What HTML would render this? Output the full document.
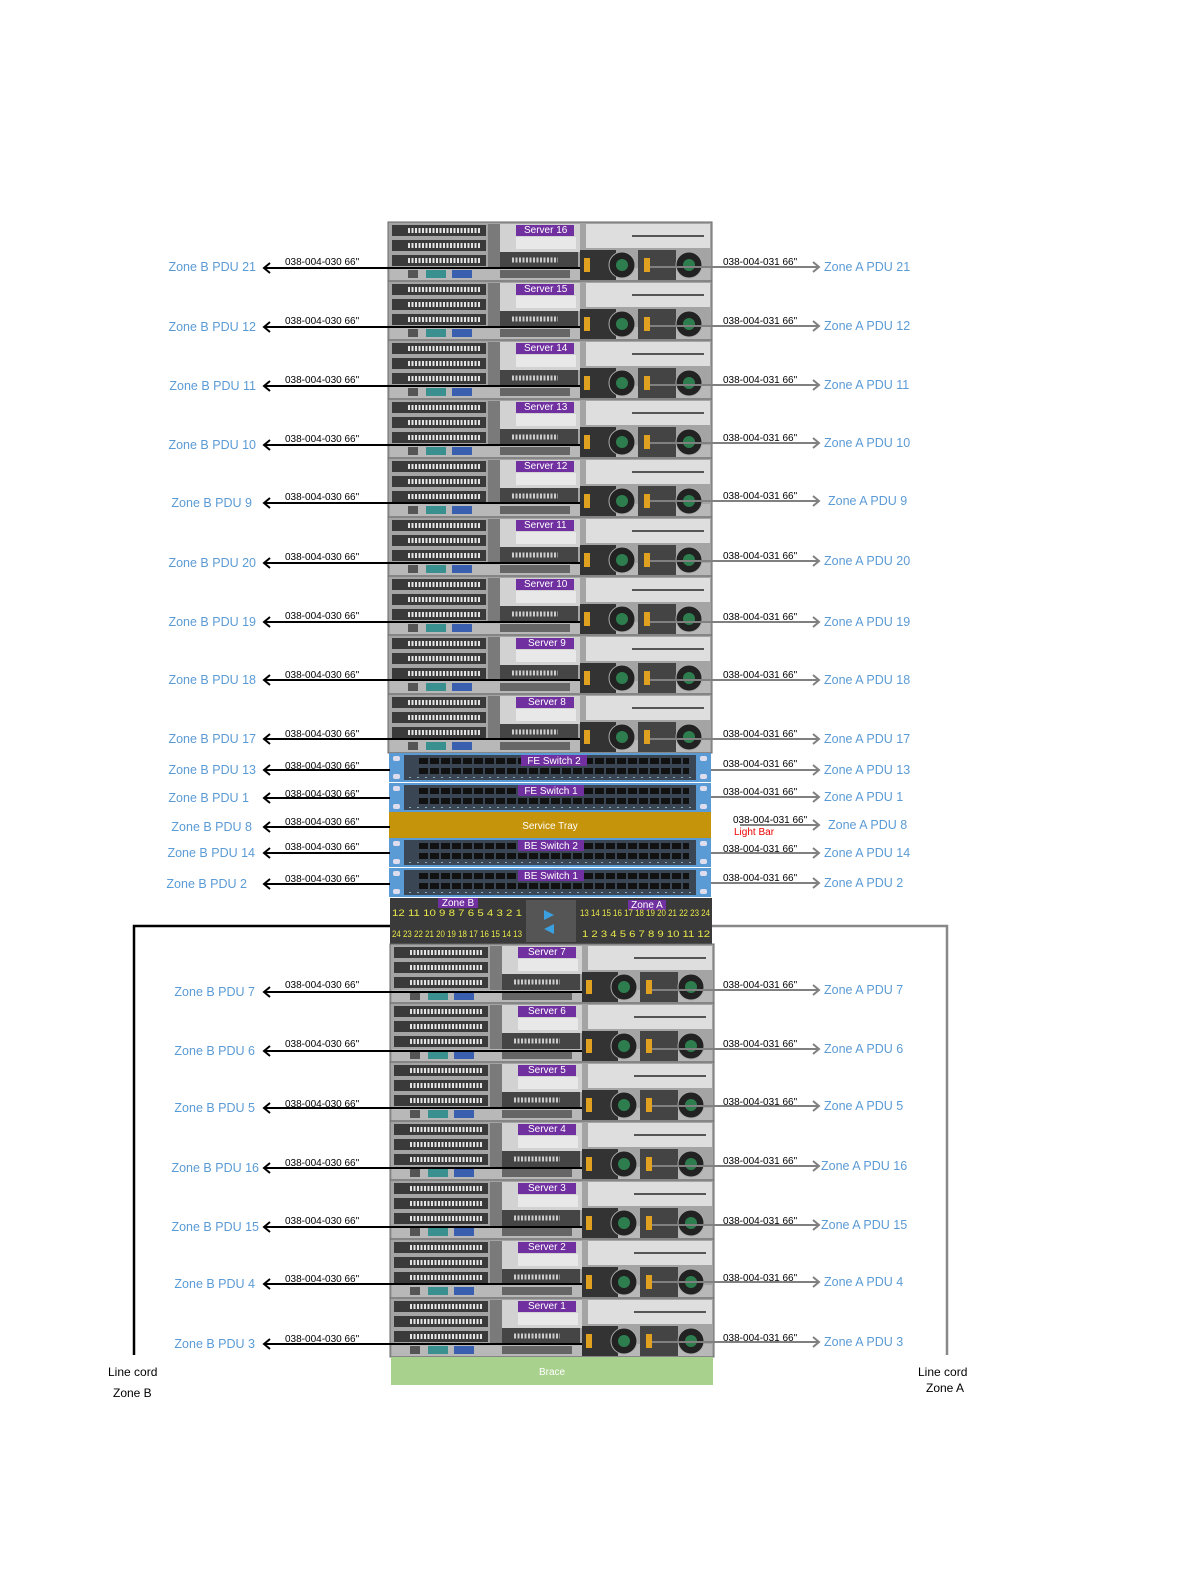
<!DOCTYPE html>
<html><head><meta charset="utf-8"><style>
html,body{margin:0;padding:0;background:#fff;}
svg{display:block;font-family:"Liberation Sans",sans-serif;}
.lb{fill:#5b9bd5;font-size:12.5px;}
.cl{fill:#000;font-size:10px;}
.sl{fill:#fff;font-size:10px;}
.pn{fill:#e8e84a;font-size:9px;}
</style></head><body>
<svg width="1191" height="1584" viewBox="0 0 1191 1584" xmlns="http://www.w3.org/2000/svg">
<defs>
<g id="srv">
<rect x="0" y="0" width="324" height="59" fill="#a4a4a4" stroke="#666" stroke-width="1"/>
<rect x="4" y="3" width="94" height="11" fill="#3a3a3a"/>
<rect x="4" y="18" width="94" height="11" fill="#3a3a3a"/>
<rect x="4" y="33" width="94" height="11" fill="#3a3a3a"/>
<line x1="20" y1="8.5" x2="92" y2="8.5" stroke="#e4e4e4" stroke-width="5" stroke-dasharray="2 1.5"/>
<line x1="20" y1="23.5" x2="92" y2="23.5" stroke="#e4e4e4" stroke-width="5" stroke-dasharray="2 1.5"/>
<line x1="20" y1="38.5" x2="92" y2="38.5" stroke="#e4e4e4" stroke-width="5" stroke-dasharray="2 1.5"/>
<rect x="2" y="46" width="320" height="12" fill="#b8b8b8"/>
<rect x="20" y="48" width="10" height="8" fill="#555"/>
<rect x="38" y="48" width="20" height="8" fill="#3a8f8f"/>
<rect x="64" y="48" width="20" height="8" fill="#3a5faf"/>
<rect x="100" y="2" width="12" height="44" fill="#7a7a7a"/>
<rect x="112" y="2" width="80" height="28" fill="#d2d2d2"/>
<rect x="128" y="3" width="58" height="11" fill="#7030a0"/>
<rect x="128" y="15" width="60" height="12" fill="#e8e8e8"/>
<rect x="112" y="30" width="78" height="16" fill="#454545"/>
<line x1="124" y1="38" x2="170" y2="38" stroke="#ccc" stroke-width="5" stroke-dasharray="2 1.5"/>
<rect x="112" y="48" width="70" height="8" fill="#666"/>
<rect x="198" y="2" width="124" height="24" fill="#dedede"/>
<line x1="244" y1="14" x2="316" y2="14" stroke="#555" stroke-width="2"/>
<rect x="192" y="28" width="36" height="30" fill="#333"/>
<rect x="196" y="36" width="6" height="14" fill="#e0a020"/>
<circle cx="234" cy="43" r="13" fill="#222" stroke="#aaa"/>
<circle cx="234" cy="43" r="6" fill="#2e7d4f"/>
<rect x="250" y="28" width="38" height="30" fill="#444"/>
<rect x="256" y="36" width="6" height="14" fill="#e0a020"/>
<circle cx="301" cy="43" r="13" fill="#222" stroke="#aaa"/>
<circle cx="301" cy="43" r="6" fill="#2e7d4f"/>
</g>
<g id="sw">
<rect x="0" y="0" width="322" height="29" fill="#5b9bd5"/>
<rect x="4" y="3" width="7" height="5" rx="2" fill="#dde"/>
<rect x="4" y="21" width="7" height="5" rx="2" fill="#dde"/>
<rect x="311" y="3" width="7" height="5" rx="2" fill="#dde"/>
<rect x="311" y="21" width="7" height="5" rx="2" fill="#dde"/>
<rect x="15" y="2" width="292" height="25" fill="#3a4654"/>
<line x1="30" y1="8" x2="300" y2="8" stroke="#111" stroke-width="6" stroke-dasharray="9 2"/>
<line x1="30" y1="18" x2="300" y2="18" stroke="#111" stroke-width="6" stroke-dasharray="9 2"/>
<line x1="20" y1="24.5" x2="304" y2="24.5" stroke="#8ab" stroke-width="1" stroke-dasharray="2 6"/>
</g>
</defs>

<use href="#srv" x="388" y="222"/><use href="#srv" x="388" y="281"/><use href="#srv" x="388" y="340"/>
<use href="#srv" x="388" y="399"/><use href="#srv" x="388" y="458"/><use href="#srv" x="388" y="517"/>
<use href="#srv" x="388" y="576"/><use href="#srv" x="388" y="635"/><use href="#srv" x="388" y="694"/>
<g class="sl">
<text x="524" y="233">Server 16</text><text x="524" y="292">Server 15</text><text x="524" y="351">Server 14</text>
<text x="524" y="410">Server 13</text><text x="524" y="469">Server 12</text><text x="524" y="528">Server 11</text>
<text x="524" y="587">Server 10</text><text x="528" y="646">Server 9</text><text x="528" y="705">Server 8</text>
</g>
<use href="#sw" x="389" y="753"/><use href="#sw" x="389" y="783"/>
<rect x="389" y="812" width="322" height="26" fill="#c5940a"/>
<text x="550" y="829" fill="#fff" font-size="10" text-anchor="middle">Service Tray</text>
<use href="#sw" x="389" y="838"/><use href="#sw" x="389" y="868"/>
<rect x="521" y="755" width="66" height="11" fill="#7030a0"/><text x="554" y="764" class="sl" text-anchor="middle">FE Switch 2</text>
<rect x="518" y="785" width="66" height="11" fill="#7030a0"/><text x="551" y="794" class="sl" text-anchor="middle">FE Switch 1</text>
<rect x="518" y="840" width="66" height="11" fill="#7030a0"/><text x="551" y="849" class="sl" text-anchor="middle">BE Switch 2</text>
<rect x="518" y="870" width="66" height="11" fill="#7030a0"/><text x="551" y="879" class="sl" text-anchor="middle">BE Switch 1</text>
<rect x="390" y="898" width="322" height="46" fill="#3a3a3a"/>
<rect x="526" y="900" width="50" height="42" fill="#555"/>
<polygon points="544,910 554,915 544,920" fill="#3aa0e0"/><polygon points="554,924 544,929 554,934" fill="#3aa0e0"/>
<rect x="438" y="898" width="40" height="10" fill="#7030a0"/><text x="458" y="906" class="sl" text-anchor="middle" font-size="9">Zone B</text>
<rect x="628" y="900" width="38" height="10" fill="#7030a0"/><text x="647" y="908" class="sl" text-anchor="middle" font-size="9">Zone A</text>
<text x="392" y="916" class="pn" textLength="130" lengthAdjust="spacingAndGlyphs">12 11 10 9  8 7 6 5  4 3 2 1</text>
<text x="392" y="937" class="pn" textLength="130" lengthAdjust="spacingAndGlyphs">24 23 22 21 20 19 18 17 16 15 14 13</text>
<text x="580" y="916" class="pn" textLength="130" lengthAdjust="spacingAndGlyphs">13 14 15 16 17 18 19 20 21 22 23 24</text>
<text x="582" y="937" class="pn" textLength="128" lengthAdjust="spacingAndGlyphs">1 2 3 4  5 6 7 8  9 10 11 12</text>
<use href="#srv" x="390" y="944"/><use href="#srv" x="390" y="1003"/><use href="#srv" x="390" y="1062"/>
<use href="#srv" x="390" y="1121"/><use href="#srv" x="390" y="1180"/><use href="#srv" x="390" y="1239"/>
<use href="#srv" x="390" y="1298"/>
<g class="sl">
<text x="528" y="955">Server 7</text><text x="528" y="1014">Server 6</text><text x="528" y="1073">Server 5</text>
<text x="528" y="1132">Server 4</text><text x="528" y="1191">Server 3</text><text x="528" y="1250">Server 2</text>
<text x="528" y="1309">Server 1</text>
</g>
<rect x="391" y="1357" width="322" height="28" fill="#a9d18e"/>
<text x="552" y="1375" fill="#fff" font-size="10" text-anchor="middle">Brace</text>

<polyline points="390,926 134,926 134,1355" fill="none" stroke="#000" stroke-width="2.5"/>
<polyline points="712,926 947,926 947,1355" fill="none" stroke="#888" stroke-width="2.5"/>
<text x="108" y="1376" font-size="12">Line cord</text><text x="113" y="1397" font-size="12">Zone B</text>
<text x="918" y="1376" font-size="12">Line cord</text><text x="926" y="1392" font-size="12">Zone A</text>

<g stroke="#000" stroke-width="2" fill="none">
<path d="M264,268H580M270,263l-6,5 6,5"/><path d="M264,327H580M270,322l-6,5 6,5"/><path d="M264,386H580M270,381l-6,5 6,5"/>
<path d="M264,445H580M270,440l-6,5 6,5"/><path d="M264,503H580M270,498l-6,5 6,5"/><path d="M264,563H580M270,558l-6,5 6,5"/>
<path d="M264,622H580M270,617l-6,5 6,5"/><path d="M264,680H580M270,675l-6,5 6,5"/><path d="M264,739H580M270,734l-6,5 6,5"/>
<path d="M264,770H390M270,765l-6,5 6,5"/><path d="M264,798H390M270,793l-6,5 6,5"/><path d="M264,827H390M270,822l-6,5 6,5"/>
<path d="M264,853H390M270,848l-6,5 6,5"/><path d="M264,884H390M270,879l-6,5 6,5"/>
<path d="M264,992H582M270,987l-6,5 6,5"/><path d="M264,1051H582M270,1046l-6,5 6,5"/><path d="M264,1108H582M270,1103l-6,5 6,5"/>
<path d="M264,1168H582M270,1163l-6,5 6,5"/><path d="M264,1227H582M270,1222l-6,5 6,5"/><path d="M264,1284H582M270,1279l-6,5 6,5"/>
<path d="M264,1344H582M270,1339l-6,5 6,5"/>
</g>
<g class="cl">
<text x="285" y="265">038-004-030 66"</text><text x="285" y="324">038-004-030 66"</text><text x="285" y="383">038-004-030 66"</text>
<text x="285" y="442">038-004-030 66"</text><text x="285" y="500">038-004-030 66"</text><text x="285" y="560">038-004-030 66"</text>
<text x="285" y="619">038-004-030 66"</text><text x="285" y="678">038-004-030 66"</text><text x="285" y="737">038-004-030 66"</text>
<text x="285" y="769">038-004-030 66"</text><text x="285" y="797">038-004-030 66"</text><text x="285" y="825">038-004-030 66"</text>
<text x="285" y="850">038-004-030 66"</text><text x="285" y="882">038-004-030 66"</text>
<text x="285" y="988">038-004-030 66"</text><text x="285" y="1047">038-004-030 66"</text><text x="285" y="1107">038-004-030 66"</text>
<text x="285" y="1166">038-004-030 66"</text><text x="285" y="1224">038-004-030 66"</text><text x="285" y="1282">038-004-030 66"</text>
<text x="285" y="1342">038-004-030 66"</text>
</g>
<g class="lb" text-anchor="end">
<text x="256" y="271">Zone B PDU 21</text><text x="256" y="331">Zone B PDU 12</text><text x="256" y="390">Zone B PDU 11</text>
<text x="256" y="449">Zone B PDU 10</text><text x="252" y="507">Zone B PDU 9</text><text x="256" y="567">Zone B PDU 20</text>
<text x="256" y="626">Zone B PDU 19</text><text x="256" y="684">Zone B PDU 18</text><text x="256" y="743">Zone B PDU 17</text>
<text x="256" y="774">Zone B PDU 13</text><text x="249" y="802">Zone B PDU 1</text><text x="252" y="831">Zone B PDU 8</text>
<text x="255" y="857">Zone B PDU 14</text><text x="247" y="888">Zone B PDU 2</text>
<text x="255" y="996">Zone B PDU 7</text><text x="255" y="1055">Zone B PDU 6</text><text x="255" y="1112">Zone B PDU 5</text>
<text x="259" y="1172">Zone B PDU 16</text><text x="259" y="1231">Zone B PDU 15</text><text x="255" y="1288">Zone B PDU 4</text>
<text x="255" y="1348">Zone B PDU 3</text>
</g>

<g stroke="#808080" stroke-width="2" fill="none">
<path d="M650,267H819M813,262l6,5 -6,5"/><path d="M650,326H819M813,321l6,5 -6,5"/><path d="M650,385H819M813,380l6,5 -6,5"/>
<path d="M650,443H819M813,438l6,5 -6,5"/><path d="M650,501H819M813,496l6,5 -6,5"/><path d="M650,561H819M813,556l6,5 -6,5"/>
<path d="M650,622H819M813,617l6,5 -6,5"/><path d="M650,680H819M813,675l6,5 -6,5"/><path d="M650,739H819M813,734l6,5 -6,5"/>
<path d="M711,770H819M813,765l6,5 -6,5"/><path d="M711,797H819M813,792l6,5 -6,5"/><path d="M740,825H819M813,820l6,5 -6,5"/>
<path d="M711,853H819M813,848l6,5 -6,5"/><path d="M711,883H819M813,878l6,5 -6,5"/>
<path d="M652,990H819M813,985l6,5 -6,5"/><path d="M652,1049H819M813,1044l6,5 -6,5"/><path d="M652,1106H819M813,1101l6,5 -6,5"/>
<path d="M652,1166H819M813,1161l6,5 -6,5"/><path d="M652,1225H819M813,1220l6,5 -6,5"/><path d="M652,1282H819M813,1277l6,5 -6,5"/>
<path d="M652,1342H819M813,1337l6,5 -6,5"/>
</g>
<g class="cl">
<text x="723" y="265">038-004-031 66"</text><text x="723" y="324">038-004-031 66"</text><text x="723" y="383">038-004-031 66"</text>
<text x="723" y="441">038-004-031 66"</text><text x="723" y="499">038-004-031 66"</text><text x="723" y="559">038-004-031 66"</text>
<text x="723" y="620">038-004-031 66"</text><text x="723" y="678">038-004-031 66"</text><text x="723" y="737">038-004-031 66"</text>
<text x="723" y="767">038-004-031 66"</text><text x="723" y="795">038-004-031 66"</text><text x="733" y="823">038-004-031 66"</text>
<text x="723" y="852">038-004-031 66"</text><text x="723" y="881">038-004-031 66"</text>
<text x="723" y="988">038-004-031 66"</text><text x="723" y="1047">038-004-031 66"</text><text x="723" y="1105">038-004-031 66"</text>
<text x="723" y="1164">038-004-031 66"</text><text x="723" y="1224">038-004-031 66"</text><text x="723" y="1281">038-004-031 66"</text>
<text x="723" y="1341">038-004-031 66"</text>
</g>
<text x="734" y="835" fill="#e00" font-size="10">Light Bar</text>
<g class="lb">
<text x="824" y="271">Zone A PDU 21</text><text x="824" y="330">Zone A PDU 12</text><text x="824" y="389">Zone A PDU 11</text>
<text x="824" y="447">Zone A PDU 10</text><text x="828" y="505">Zone A PDU 9</text><text x="824" y="565">Zone A PDU 20</text>
<text x="824" y="626">Zone A PDU 19</text><text x="824" y="684">Zone A PDU 18</text><text x="824" y="743">Zone A PDU 17</text>
<text x="824" y="774">Zone A PDU 13</text><text x="824" y="801">Zone A PDU 1</text><text x="828" y="829">Zone A PDU 8</text>
<text x="824" y="857">Zone A PDU 14</text><text x="824" y="887">Zone A PDU 2</text>
<text x="824" y="994">Zone A PDU 7</text><text x="824" y="1053">Zone A PDU 6</text><text x="824" y="1110">Zone A PDU 5</text>
<text x="821" y="1170">Zone A PDU 16</text><text x="821" y="1229">Zone A PDU 15</text><text x="824" y="1286">Zone A PDU 4</text>
<text x="824" y="1346">Zone A PDU 3</text>
</g>
</svg>
</body></html>
